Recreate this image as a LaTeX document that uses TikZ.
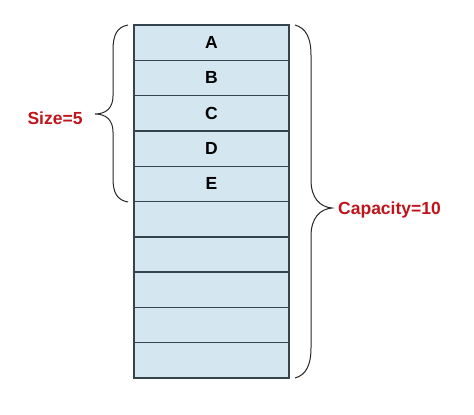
\documentclass[tikz,border=0pt]{standalone}
\usepackage{fontspec}
\setmainfont{Liberation Sans}
\definecolor{cellfill}{HTML}{D4E7F1}
\definecolor{cellline}{HTML}{34434D}
\definecolor{labred}{HTML}{C0141C}
\begin{document}
\begin{tikzpicture}[x=1pt,y=-1pt,
  cell/.style={draw=cellline,fill=cellfill,line width=1.4pt,minimum width=155pt,minimum height=35.3pt,inner sep=0pt,outer sep=0pt,font=\fontsize{17.5}{20}\selectfont\bfseries},
  brc/.style={draw=black!85,line width=1pt},
  lab/.style={text=labred,font=\fontsize{17.5}{20}\selectfont\bfseries,inner sep=0pt}]
\useasboundingbox (0,0) rectangle (474,415);
\foreach \i/\t in {1/A,2/B,3/C,4/D,5/E,6/,7/,8/,9/,10/}{
  \node[cell] (r\i) at (211.5,{25+35.3*(\i-0.5)}) {\t};
}
% left brace
\draw[brc] (128,25) .. controls (117,27) and (113,35) .. (113,50) -- (113,96)
  .. controls (113,108) and (106,114) .. (95,114)
  .. controls (106,114) and (113,120) .. (113,132) -- (113,178)
  .. controls (113,193) and (117,200) .. (128,202);
% right brace
\draw[brc] (295,25) .. controls (306,28) and (311,38) .. (311,55) -- (311,180)
  .. controls (311,198) and (320,207) .. (332,208)
  .. controls (320,209) and (311,218) .. (311,236) -- (311,348)
  .. controls (311,365) and (306,375) .. (295,378);
\node[lab] (size) at (55,118) {Size=5};
\node[lab,anchor=west] (cap) at (338,210) {Capacity=10};
\end{tikzpicture}
\end{document}
